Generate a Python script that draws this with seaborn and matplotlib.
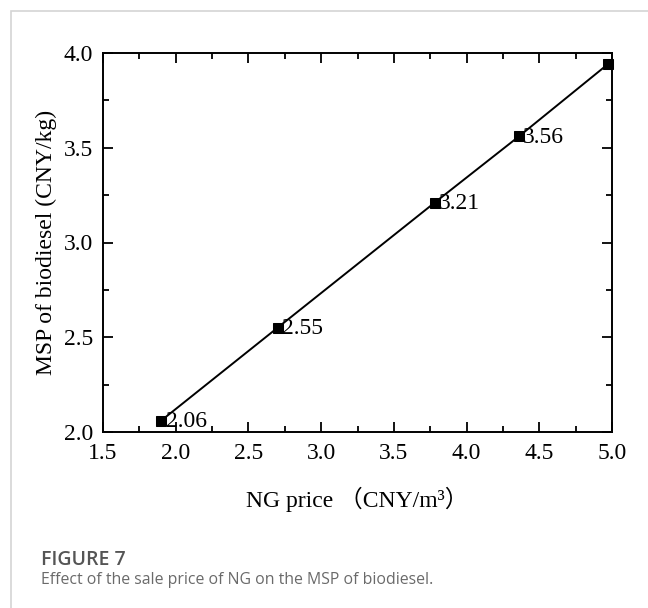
import matplotlib
matplotlib.use("Agg")
import matplotlib.pyplot as plt
import seaborn as sns
import pandas as pd
from matplotlib.ticker import MultipleLocator
from matplotlib.patches import Rectangle

ng_price = [1.90, 2.70, 3.78, 4.36, 4.97]
msp = [2.06, 2.55, 3.21, 3.56, 3.94]
point_labels = ["2.06", "2.55", "3.21", "3.56", ""]

x_label = "NG price \uff08CNY/m\u00b3\uff09"
y_label = "MSP of biodiesel (CNY/kg)"
fig_title = "FIGURE 7"
fig_caption = "Effect of the sale price of NG on the MSP of biodiesel."

sns.set_style("ticks")
plt.rcParams['font.family'] = ['Liberation Serif', 'Noto Sans CJK SC', 'DejaVu Sans']

df = pd.DataFrame({"x": ng_price, "y": msp})

fig = plt.figure(figsize=(6.48, 6.08), dpi=100)
ax = fig.add_axes([103/648, 1-432/608, (612-103)/648, (432-53)/608])

sns.lineplot(data=df, x="x", y="y", ax=ax, color="black", linewidth=1.4,
             marker="s", markersize=7, markeredgecolor="black",
             markerfacecolor="black", clip_on=False, zorder=3)

for xv, yv, lab in zip(ng_price, msp, point_labels):
    if lab:
        ax.text(xv + 0.03, yv - 0.005, lab, ha="left", va="center", fontsize=17,
                color="black", family=['Liberation Serif'])

ax.set_xlim(1.5, 5.0)
ax.set_ylim(2.0, 4.0)
ax.xaxis.set_major_locator(MultipleLocator(0.5))
ax.xaxis.set_minor_locator(MultipleLocator(0.25))
ax.yaxis.set_major_locator(MultipleLocator(0.5))
ax.yaxis.set_minor_locator(MultipleLocator(0.25))
ax.xaxis.set_major_formatter(plt.FormatStrFormatter("%.1f"))
ax.yaxis.set_major_formatter(plt.FormatStrFormatter("%.1f"))

ax.tick_params(which="both", direction="in", top=True, right=True,
               width=1.3, color="black", labelsize=17, labelcolor="black")
ax.tick_params(which="major", length=7)
ax.tick_params(which="minor", length=4)
ax.tick_params(axis="x", which="major", pad=8)
ax.tick_params(axis="y", which="major", pad=7)
for s in ax.spines.values():
    s.set_visible(True)
    s.set_linewidth(1.4)
    s.set_color("black")

ax.set_xlabel(x_label, fontsize=17, labelpad=16, color="black")
ax.set_ylabel(y_label, fontsize=17, labelpad=5, color="black")

# figure frame
fig.patches.append(Rectangle((11/648, -0.1), 1.2, 1 - 11/608 + 0.1,
                             transform=fig.transFigure, fill=False,
                             edgecolor="#d4d4d4", linewidth=1.2))

fig.text(41/648, 1-565/608, fig_title, fontsize=14, color="#555555",
         family=['Open Sans'], fontweight="semibold", ha="left", va="baseline")
fig.text(41/648, 1-584/608, fig_caption, fontsize=11.4, color="#6a6a6a",
         family=['Open Sans'], ha="left", va="baseline")

fig.savefig("out.png", dpi=100, facecolor="white")
